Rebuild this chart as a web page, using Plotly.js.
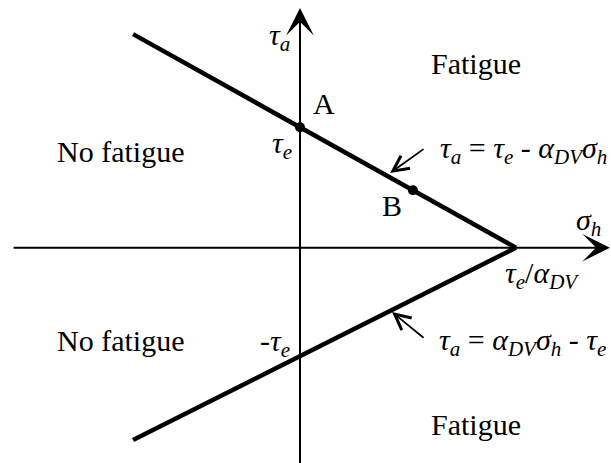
<!DOCTYPE html>
<html>
<head>
<meta charset="utf-8">
<script src="https://cdn.plot.ly/plotly-3.0.1.min.js"></script>
<style>
  html, body { margin: 0; padding: 0; background: #fff; }
  #chart { width: 611px; height: 463px; }
</style>
</head>
<body>
<div id="chart"></div>
<script>
// Fatigue limit lines in the (sigma_h, tau_a) plane, in units where tau_e = 1
// and tau_e / alpha_DV = 1.
const sigmaUpper = [-0.773, 1];
const tauUpper = [1.773, 0];
const sigmaLower = [-0.773, 1];
const tauLower = [-1.596, 0];

// Marked points on the upper limit line
const pointNames = ['A', 'B'];
const pointSigma = [0, 0.523];
const pointTau = [1, 0.477];

// Intercepts of the limit lines
const interceptUpper = 1;
const interceptLower = -0.9;
const rootSigma = 1;

const FONT = 'Liberation Serif, Times New Roman, serif';
const black = '#000';

const tr = [
  {
    x: sigmaUpper, y: tauUpper, mode: 'lines', type: 'scatter',
    line: { color: black, width: 4.5 }, hoverinfo: 'skip'
  },
  {
    x: sigmaLower, y: tauLower, mode: 'lines', type: 'scatter',
    line: { color: black, width: 4.5 }, hoverinfo: 'skip'
  },
  {
    x: pointSigma, y: pointTau, mode: 'markers', type: 'scatter',
    marker: { color: black, size: 10 }, hoverinfo: 'skip'
  }
];

function txt(x, y, text, extra) {
  return Object.assign({
    x: x, y: y, xref: 'x', yref: 'y', text: text, showarrow: false,
    xanchor: 'center', yanchor: 'middle',
    font: { family: FONT, size: 30, color: black }
  }, extra || {});
}

function axisArrow(x0, y0, x1, y1) {
  return {
    x: x1, y: y1, ax: x0, ay: y0, xref: 'x', yref: 'y', axref: 'x', ayref: 'y',
    text: '', showarrow: true, arrowhead: 3, arrowsize: 2.3, arrowwidth: 2,
    arrowcolor: black, standoff: 0, startstandoff: 0
  };
}

function pointer(x0, y0, x1, y1) {
  return {
    x: x1, y: y1, ax: x0, ay: y0, xref: 'x', yref: 'y', axref: 'x', ayref: 'y',
    text: '', showarrow: true, arrowhead: 5, arrowsize: 1.7, arrowwidth: 1.8,
    arrowcolor: black, standoff: 0, startstandoff: 0
  };
}

const tau = '<i>τ</i>', sigma = '<i>σ</i>', alpha = '<i>α</i>';
const sub = s => '<sub><i>' + s + '</i></sub>';

const annotations = [
  // coordinate axes
  axisArrow(-1.333, 0, 1.435, 0),
  axisArrow(0, -1.8, 0, 1.99),

  // axis names
  txt(-0.093, 1.75, tau + sub('a')),
  txt(1.338, 0.212, sigma + sub('h')),

  // intercept labels
  txt(0, interceptUpper, tau + sub('e'), { xshift: -18, yshift: -18 }),
  txt(0, interceptLower, '-' + tau + sub('e'), { xshift: -25, yshift: 13 }),
  txt(rootSigma, 0, tau + sub('e') + '/' + alpha + sub('DV'), { xshift: 26, yshift: -27 }),

  // point labels
  txt(pointSigma[0], pointTau[0], pointNames[0], { xshift: 24, yshift: 24 }),
  txt(pointSigma[1], pointTau[1], pointNames[1], { xshift: -21, yshift: -15 }),

  // region labels
  txt(0.815, 1.53, 'Fatigue'),
  txt(-0.833, 0.80, 'No fatigue'),
  txt(-0.833, -0.77, 'No fatigue'),
  txt(0.815, -1.466, 'Fatigue'),

  // line equations with pointers
  txt(1.037, 0.81, tau + sub('a') + ' = ' + tau + sub('e') + ' - ' + alpha + sub('DV') + sigma + sub('h')),
  pointer(0.579, 0.827, 0.417, 0.62),
  txt(1.03, -0.78, tau + sub('a') + ' = ' + alpha + sub('DV') + sigma + sub('h') + ' - ' + tau + sub('e')),
  pointer(0.579, -0.757, 0.426, -0.534)
];

const layout = {
  width: 611, height: 463,
  margin: { l: 0, r: 0, t: 0, b: 0, pad: 0 },
  paper_bgcolor: '#fff', plot_bgcolor: '#fff',
  showlegend: false,
  xaxis: { range: [-1.389, 1.440], visible: false, fixedrange: true },
  yaxis: { range: [-1.787, 2.056], visible: false, fixedrange: true },
  annotations: annotations
};

Plotly.newPlot('chart', tr, layout, { displayModeBar: false, staticPlot: true });
</script>
</body>
</html>
